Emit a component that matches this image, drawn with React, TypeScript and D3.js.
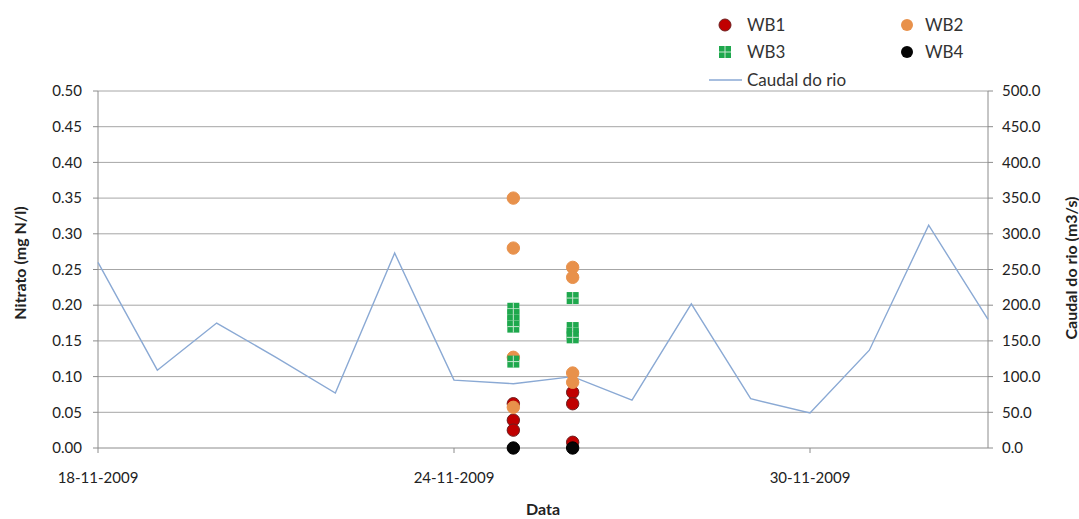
import React from "react";
import * as d3 from "d3";

const flowDates = [
  "2009-11-18", "2009-11-19", "2009-11-20", "2009-11-21", "2009-11-22", "2009-11-23",
  "2009-11-24", "2009-11-25", "2009-11-26", "2009-11-27", "2009-11-28", "2009-11-29",
  "2009-11-30", "2009-12-01", "2009-12-02", "2009-12-03",
];
const flowValues = [260, 109, 175, 127, 77, 273, 95, 90, 100, 67, 202, 69, 49, 137, 312, 180];

const wb1Dates = ["2009-11-25", "2009-11-25", "2009-11-25", "2009-11-26", "2009-11-26", "2009-11-26"];
const wb1Values = [0.062, 0.039, 0.025, 0.078, 0.062, 0.008];
const wb2Dates = ["2009-11-25", "2009-11-25", "2009-11-25", "2009-11-25", "2009-11-26", "2009-11-26", "2009-11-26", "2009-11-26"];
const wb2Values = [0.35, 0.28, 0.127, 0.057, 0.253, 0.239, 0.105, 0.092];
const wb3Dates = ["2009-11-25", "2009-11-25", "2009-11-25", "2009-11-25", "2009-11-25", "2009-11-26", "2009-11-26", "2009-11-26", "2009-11-26"];
const wb3Values = [0.195, 0.186, 0.178, 0.17, 0.121, 0.21, 0.168, 0.16, 0.155];
const wb4Dates = ["2009-11-25", "2009-11-26"];
const wb4Values = [0, 0];

const leftTicks = [0, 0.05, 0.1, 0.15, 0.2, 0.25, 0.3, 0.35, 0.4, 0.45, 0.5];
const rightTicks = [0, 50, 100, 150, 200, 250, 300, 350, 400, 450, 500];
const xTickDates = ["2009-11-18", "2009-11-24", "2009-11-30"];

const parse = (s: string) => {
  const [y, m, d] = s.split("-").map(Number);
  return new Date(y, m - 1, d);
};

const W = 1079, H = 519;
const L = 98, R = 988, T = 91, B = 448;
const FONT = "Lato, 'Open Sans', sans-serif";

export default function App() {
  const x = d3.scaleTime().domain([parse("2009-11-18"), parse("2009-12-03")]).range([L, R]);
  const yL = d3.scaleLinear().domain([0, 0.5]).range([B, T]);
  const yR = d3.scaleLinear().domain([0, 500]).range([B, T]);
  const fmtX = d3.timeFormat("%d-%m-%Y");

  const line = d3
    .line<number>()
    .x((_, i) => x(parse(flowDates[i])))
    .y((v) => yR(v));

  const circles = (dates: string[], vals: number[], fill: string, stroke: string, key: string) =>
    dates.map((d, i) => (
      <circle key={key + i} cx={x(parse(d))} cy={yL(vals[i])} r={6.2} fill={fill} stroke={stroke} strokeWidth={1} />
    ));

  const square = (cx: number, cy: number, k: string) => (
    <g key={k}>
      <rect x={cx - 6} y={cy - 6} width={12} height={12} fill="#1ea84d" />
      <line x1={cx} x2={cx} y1={cy - 6} y2={cy + 6} stroke="#c8e6d0" strokeWidth={1} />
      <line x1={cx - 6} x2={cx + 6} y1={cy} y2={cy} stroke="#c8e6d0" strokeWidth={1} />
    </g>
  );

  return (
    <svg width={W} height={H} style={{ position: "absolute", left: 0, top: 0, background: "#fff" }} fontFamily={FONT}>
      {/* gridlines */}
      {leftTicks.filter((t) => t > 0).map((t) => (
        <line key={"g" + t} x1={L} x2={R} y1={yL(t)} y2={yL(t)} stroke="#a6a6a6" strokeWidth={1} />
      ))}
      {/* axes */}
      <line x1={L} x2={L} y1={T} y2={B} stroke="#8c8c8c" />
      <line x1={R} x2={R} y1={T} y2={B} stroke="#8c8c8c" />
      <line x1={L} x2={R} y1={B} y2={B} stroke="#8c8c8c" />
      {leftTicks.map((t) => (
        <g key={"lt" + t}>
          <line x1={L - 5} x2={L} y1={yL(t)} y2={yL(t)} stroke="#8c8c8c" />
          <text x={82} y={yL(t)} dy="0.35em" textAnchor="end" fontSize={15} fill="#222">
            {t.toFixed(2)}
          </text>
        </g>
      ))}
      {rightTicks.map((t) => (
        <g key={"rt" + t}>
          <line x1={R} x2={R + 5} y1={yR(t)} y2={yR(t)} stroke="#8c8c8c" />
          <text x={1002} y={yR(t)} dy="0.35em" textAnchor="start" fontSize={15} fill="#222">
            {t.toFixed(1)}
          </text>
        </g>
      ))}
      {xTickDates.map((d) => (
        <g key={"xt" + d}>
          <line x1={x(parse(d))} x2={x(parse(d))} y1={B} y2={B + 5} stroke="#8c8c8c" />
          <text x={x(parse(d))} y={478} dy="0.35em" textAnchor="middle" fontSize={15} fill="#222">
            {fmtX(parse(d))}
          </text>
        </g>
      ))}
      {/* axis titles */}
      <text x={543} y={509} dy="0.35em" textAnchor="middle" fontSize={16} fontWeight="bold" fill="#222">Data</text>
      <text transform="translate(20,263) rotate(-90)" dy="0.35em" textAnchor="middle" fontSize={16} fontWeight="bold" fill="#222">
        Nitrato (mg N/l)
      </text>
      <text transform="translate(1071,268) rotate(-90)" dy="0.35em" textAnchor="middle" fontSize={16} fontWeight="bold" fill="#222">
        Caudal do rio (m3/s)
      </text>
      {/* river flow */}
      <path d={line(flowValues) || ""} fill="none" stroke="#8aa9d4" strokeWidth={1.4} />
      {/* scatter */}
      {circles(wb1Dates, wb1Values, "#c00000", "#6e2020", "a")}
      {circles(wb2Dates, wb2Values, "#e8914b", "#e8914b", "b")}
      {wb3Dates.map((d, i) => square(x(parse(d)), yL(wb3Values[i]), "c" + i))}
      {circles(wb4Dates, wb4Values, "#050505", "#000", "d")}
      {/* legend */}
      <circle cx={725} cy={25} r={6} fill="#c00000" stroke="#6e2020" />
      <text x={747} y={25} dy="0.35em" fontSize={17} fill="#333">WB1</text>
      <circle cx={907} cy={25} r={6} fill="#e8914b" />
      <text x={925} y={25} dy="0.35em" fontSize={17} fill="#333">WB2</text>
      {square(725, 52, "lg3")}
      <text x={747} y={52} dy="0.35em" fontSize={17} fill="#333">WB3</text>
      <circle cx={907} cy={52} r={6} fill="#050505" />
      <text x={925} y={52} dy="0.35em" fontSize={17} fill="#333">WB4</text>
      <line x1={709} x2={742} y1={80} y2={80} stroke="#8aa9d4" strokeWidth={1.4} />
      <text x={747} y={80} dy="0.35em" fontSize={17} fill="#333">Caudal do rio</text>
    </svg>
  );
}
